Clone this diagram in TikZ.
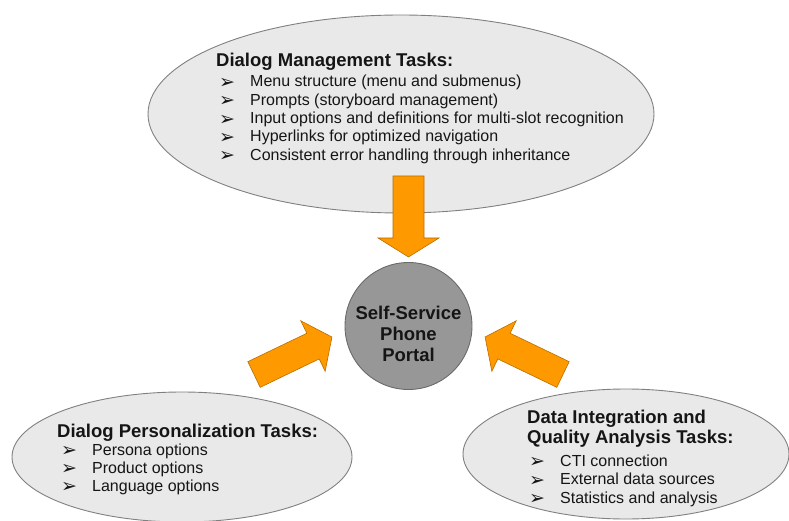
\documentclass[tikz,border=0pt]{standalone}
\usepackage{fontspec}
\setmainfont{Liberation Sans}
\newfontfamily\dingfont{DejaVu Sans}
\usetikzlibrary{shapes.geometric}

\definecolor{areafill}{HTML}{E9E9E9}
\definecolor{areaedge}{HTML}{808080}
\definecolor{hubfill}{HTML}{979797}
\definecolor{hubedge}{HTML}{6A6A6A}
\definecolor{flowfill}{HTML}{FF9900}
\definecolor{flowedge}{HTML}{B86E00}
\definecolor{ink}{HTML}{151515}

% block arrow along +x: length, shaft width, head width, head length
\newcommand\blockarrow[4]{%
  \path[flowarrow] (0,-#2/2) -- ({#1-#4},-#2/2) -- ({#1-#4},-#3/2) -- (#1,0)
    -- ({#1-#4},#3/2) -- ({#1-#4},#2/2) -- (0,#2/2) -- cycle;}

\begin{document}
\begin{tikzpicture}[x=1pt,y=-1pt,
  taskarea/.style={ellipse, draw=areaedge, fill=areafill, line width=0.9pt, inner sep=0pt},
  hub/.style={circle, draw=hubedge, fill=hubfill, line width=0.9pt, inner sep=0pt, minimum size=127pt},
  flowarrow/.style={fill=flowfill, draw=flowedge, line width=0.6pt, line join=miter},
  heading/.style={anchor=base west, inner sep=0pt, text=ink, font=\fontsize{18.5}{20}\selectfont\bfseries},
  item/.style={anchor=base west, inner sep=0pt, text=ink, font=\fontsize{16}{18}\selectfont},
  bullet/.style={anchor=base west, inner sep=0pt, text=ink, yshift=-1.5pt,
    font=\dingfont\fontsize{19}{20}\selectfont},
  hubtext/.style={anchor=base, inner sep=0pt, text=ink, font=\fontsize{18.5}{21}\selectfont\bfseries}]

\useasboundingbox (0,0) rectangle (789,521);
\begin{scope}
\clip (0,0) rectangle (789,521);

% task areas
\node[taskarea, minimum width=506pt, minimum height=198pt] (mgmt) at (401,114) {};
\node[taskarea, minimum width=340pt, minimum height=130pt] (pers) at (182,457) {};
\node[taskarea, minimum width=326pt, minimum height=130pt] (data) at (626,454) {};

% central portal
\node[hub] (portal) at (408.5,326) {};
\node[hubtext] (p1) at (408.5,319) {Self-Service};
\node[hubtext] (p2) at (408.5,340) {Phone};
\node[hubtext] (p3) at (408.5,361) {Portal};

% arrows into the portal
\begin{scope}[shift={(408.5,176)}, rotate=-90]
  \blockarrow{81}{31}{61}{19}
\end{scope}
\begin{scope}[shift={(254,374.5)}, rotate=25.7]
  \blockarrow{86.5}{28.5}{56}{21}
\end{scope}
\begin{scope}[shift={(563,374.5)}, rotate=154.3]
  \blockarrow{86.5}{28.5}{56}{21}
\end{scope}

% dialog management
\node[heading] (mh) at (216,67) {Dialog Management Tasks:};
\foreach \t [count=\i] in {Menu structure (menu and submenus),
    Prompts (storyboard management),
    Input options and definitions for multi-slot recognition,
    Hyperlinks for optimized navigation,
    Consistent error handling through inheritance} {
  \node[bullet] (mb\i) at (219,{87+18.3*(\i-1)}) {➢};
  \node[item] (mi\i) at (250,{87+18.3*(\i-1)}) {\t};
}

% dialog personalization
\node[heading] (ph) at (57,437) {Dialog Personalization Tasks:};
\foreach \t [count=\i] in {Persona options, Product options, Language options} {
  \node[bullet] (pb\i) at (61,{455+18*(\i-1)}) {➢};
  \node[item] (pi\i) at (92,{455+18*(\i-1)}) {\t};
}

% data integration
\node[heading] (dh1) at (527,423) {Data Integration and};
\node[heading] (dh2) at (527,443) {Quality Analysis Tasks:};
\foreach \t [count=\i] in {CTI connection, External data sources, Statistics and analysis} {
  \node[bullet] (db\i) at (529,{466+18.5*(\i-1)}) {➢};
  \node[item] (di\i) at (560,{466+18.5*(\i-1)}) {\t};
}
\end{scope}
\end{tikzpicture}
\end{document}
